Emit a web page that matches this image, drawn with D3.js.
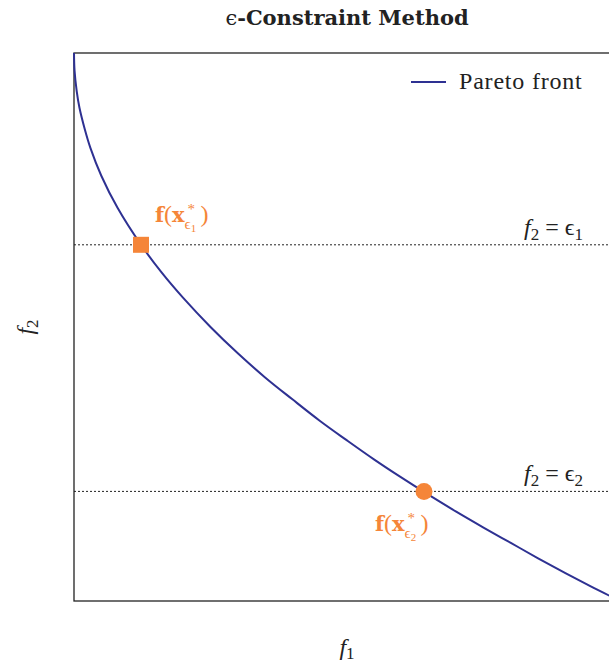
<!DOCTYPE html>
<html>
<head>
<meta charset="utf-8">
<script src="https://cdn.jsdelivr.net/npm/d3@7"></script>
<style>
  html, body { margin: 0; padding: 0; background: #fff; overflow: hidden; }
  text { font-family: "Liberation Serif", "DejaVu Serif", serif; fill: #222; }
</style>
</head>
<body>
<svg id="chart" width="609" height="667"></svg>
<script>
// Pareto front samples (f1, f2)
const frontF1 = [0, 0.001, 0.005, 0.01, 0.02, 0.03, 0.05, 0.08, 0.1227, 0.16, 0.2, 0.25, 0.3, 0.35, 0.4, 0.45, 0.5, 0.55, 0.6, 0.641, 0.7, 0.75, 0.8, 0.85, 0.9, 0.95, 1.0];
const frontF2 = [1.0, 0.968, 0.93, 0.90, 0.86, 0.827, 0.776, 0.717, 0.65, 0.60, 0.553, 0.50, 0.452, 0.408, 0.368, 0.329, 0.293, 0.258, 0.225, 0.199, 0.163, 0.134, 0.106, 0.078, 0.051, 0.025, 0.0];

// Constraint levels and the constrained optima
const epsilonLevels = [0.65, 0.2];
const epsilonNames = ["1", "2"];
const optimumF1 = [0.1227, 0.641];
const optimumF2 = [0.65, 0.2];

const navy = "#2e3192";
const orange = "#f58538";

const margin = { left: 74, top: 53, right: 620, bottom: 601 };
const svg = d3.select("#chart");

const x = d3.scaleLinear().domain([0, 1]).range([margin.left, margin.right]);
const y = d3.scaleLinear().domain([0, 1]).range([margin.bottom, margin.top]);

// Frame
svg.append("rect")
  .attr("x", x(0)).attr("y", y(1))
  .attr("width", x(1) - x(0)).attr("height", y(0) - y(1))
  .attr("fill", "none").attr("stroke", "#222").attr("stroke-width", 1.3);

// Constraint lines
svg.selectAll("line.eps").data(epsilonLevels).join("line")
  .attr("class", "eps")
  .attr("x1", x(0)).attr("x2", x(1))
  .attr("y1", d => y(d)).attr("y2", d => y(d))
  .attr("stroke", "#222").attr("stroke-width", 1)
  .attr("stroke-dasharray", "2,2");

// Pareto front
const pts = frontF1.map((f, i) => [f, frontF2[i]]);
svg.append("path")
  .datum(pts)
  .attr("fill", "none")
  .attr("stroke", navy)
  .attr("stroke-width", 2)
  .attr("d", d3.line().x(d => x(d[0])).y(d => y(d[1])).curve(d3.curveCatmullRom));

// Constrained optima markers
const sq = 16;
svg.append("rect")
  .attr("x", x(optimumF1[0]) - sq / 2).attr("y", y(optimumF2[0]) - sq / 2)
  .attr("width", sq).attr("height", sq)
  .attr("fill", orange);
svg.append("circle")
  .attr("cx", x(optimumF1[1])).attr("cy", y(optimumF2[1]))
  .attr("r", 8.5)
  .attr("fill", orange);

// Title
const title = svg.append("text")
  .attr("x", 347).attr("y", 25)
  .attr("text-anchor", "middle")
  .style("font-family", "'DejaVu Serif', serif")
  .style("font-weight", "bold")
  .style("font-size", "21px");
title.append("tspan").style("font-weight", "normal").text("\u03f5");
title.append("tspan").text("-Constraint Method");

// Legend
svg.append("line")
  .attr("x1", 411).attr("x2", 446).attr("y1", 82).attr("y2", 82)
  .attr("stroke", navy).attr("stroke-width", 2);
svg.append("text")
  .attr("x", 459).attr("y", 89)
  .style("font-size", "24px")
  .style("letter-spacing", "0.8px")
  .text("Pareto front");

// Constraint labels "f2 = ϵi"
epsilonLevels.forEach((lev, i) => {
  const t = svg.append("text")
    .attr("x", 583).attr("y", y(lev) - 10)
    .attr("text-anchor", "end")
    .style("font-size", "24px");
  t.append("tspan").style("font-style", "italic").text("f");
  t.append("tspan").attr("dy", 5).style("font-size", "17px").text("2");
  t.append("tspan").attr("dy", -5).text(" = \u03f5");
  t.append("tspan").attr("dy", 5).style("font-size", "17px").text(epsilonNames[i]);
});

// Optimum labels f(x*_ϵi): main part, superscript star and subscript as separate texts
const labelPos = [[155, 222], [375, 531]];
optimumF1.forEach((_, i) => {
  const [lx, ly] = labelPos[i];
  const main = svg.append("text")
    .attr("x", lx).attr("y", ly)
    .style("font-size", "24px")
    .style("fill", orange);
  main.append("tspan").style("font-weight", "bold").style("font-family", "'DejaVu Serif', serif").style("font-size", "21px").text("f");
  main.append("tspan").text("(");
  main.append("tspan").style("font-weight", "bold").style("font-family", "'DejaVu Serif', serif").style("font-size", "21px").text("x");
  const w = main.node().getComputedTextLength();

  svg.append("text")
    .attr("x", lx + w + 3).attr("y", ly - 8)
    .style("font-size", "15px")
    .style("fill", orange)
    .text("*");

  const sub = svg.append("text")
    .attr("x", lx + w).attr("y", ly + 7)
    .style("font-size", "15px")
    .style("fill", orange);
  sub.append("tspan").text("\u03f5");
  sub.append("tspan").attr("dy", 3).style("font-size", "11px").text(epsilonNames[i]);

  svg.append("text")
    .attr("x", lx + w + 16).attr("y", ly)
    .style("font-size", "24px")
    .style("fill", orange)
    .text(")");
});

// Axis labels
const xl = svg.append("text")
  .attr("x", 347).attr("y", 655)
  .attr("text-anchor", "middle")
  .style("font-size", "24px");
xl.append("tspan").style("font-style", "italic").text("f");
xl.append("tspan").attr("dy", 4).style("font-size", "17px").text("1");

const yl = svg.append("text")
  .attr("transform", "translate(33,327) rotate(-90)")
  .attr("text-anchor", "middle")
  .style("font-size", "24px");
yl.append("tspan").style("font-style", "italic").text("f");
yl.append("tspan").attr("dy", 5).style("font-size", "17px").text("2");
</script>
</body>
</html>
